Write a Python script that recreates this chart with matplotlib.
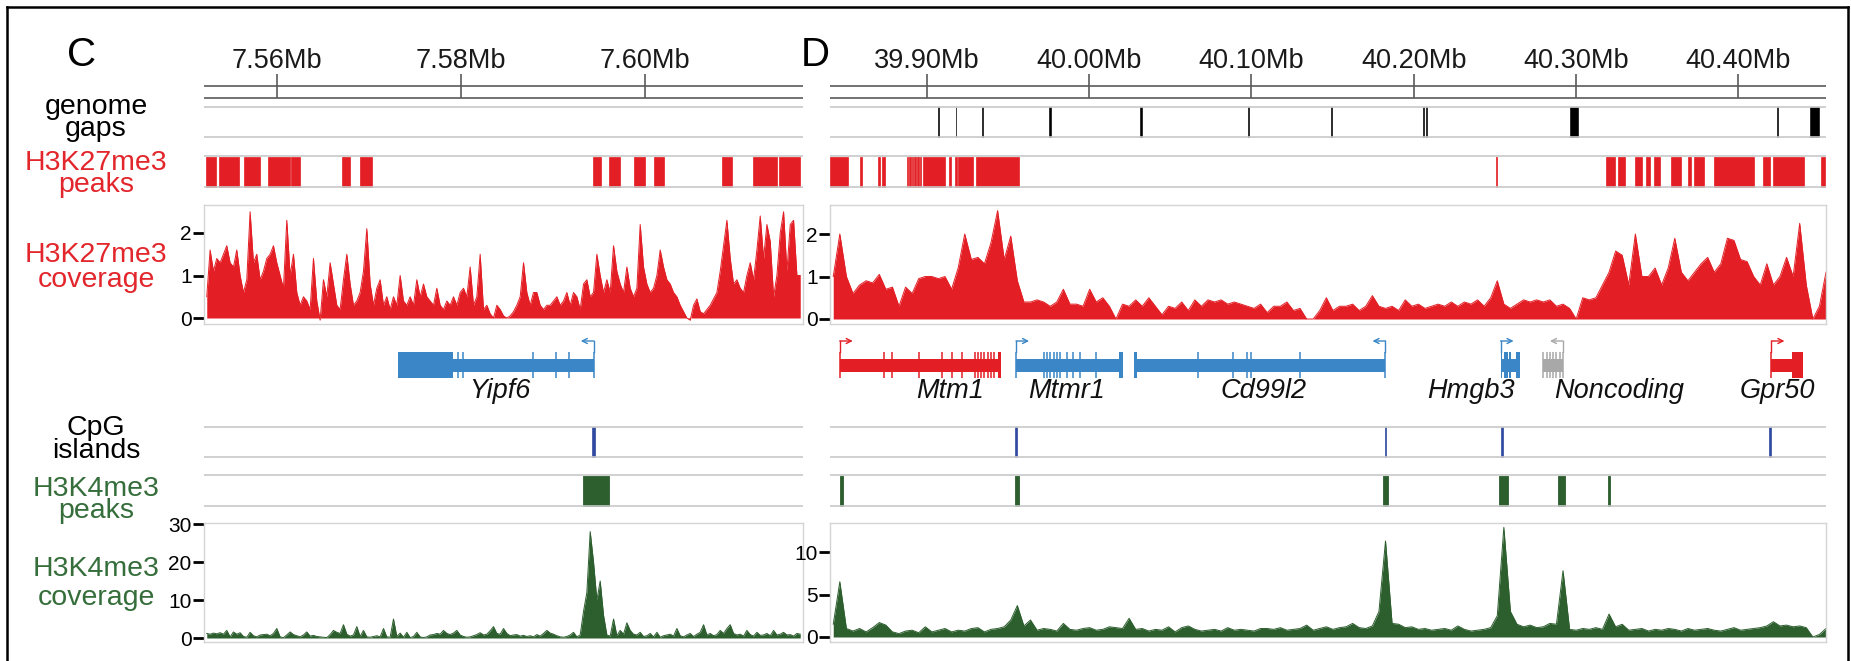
import numpy as np
import matplotlib
matplotlib.use("Agg")
import matplotlib.pyplot as plt
from matplotlib.lines import Line2D
from matplotlib.patches import Rectangle

plt.rcParams['font.family'] = ['Liberation Sans', 'DejaVu Sans']

W, H = 1851, 661

RED = '#e31e24'
BLUE = '#3a86c6'
GREEN = '#2c5e2e'
CPG_BLUE = '#2f4aa0'
GRAY_GENE = '#a8a8a8'
LABEL_RED = '#e2262b'
LABEL_GREEN = '#356e3b'
TRACK_LINE = '#c8c8c8'

# ---------------- region C (chrX) ----------------
C_RANGE = (7.5521, 7.6172)
C_TICKS = [7.56, 7.58, 7.60]
C_TICK_LABELS = ['7.56Mb', '7.58Mb', '7.60Mb']

C_GAP_START = []
C_GAP_END = []

C_K27_PEAK_START = [7.55236, 7.55373, 7.55645, 7.55910, 7.56160, 7.56714, 7.56910,
                    7.59438, 7.59612, 7.59885, 7.60096, 7.60835, 7.61175, 7.61460]
C_K27_PEAK_END = [7.55337, 7.55590, 7.55815, 7.56141, 7.56250, 7.56801, 7.57036,
                  7.59529, 7.59728, 7.59999, 7.60209, 7.60948, 7.61432, 7.61687]

C_K27_COV = [
    0.5, 1.6, 1.1, 1.4, 1.3, 1.5, 1.7, 1.3, 1.2, 1.6, 1.0, 0.6, 0.9, 2.5, 1.3, 1.5,
    0.9, 1.1, 1.4, 1.5, 1.7, 1.3, 1.0, 0.7, 2.3, 1.0, 1.5, 0.6, 0.3, 0.5, 0.4, 0.2,
    1.4, 0.4, -0.05, 0.9, 0.5, 1.3, 0.8, 0.3, 0.2, 0.9, 1.5, 0.8, 0.3, 0.4, 0.6, 1.1,
    2.1, 0.8, 0.3, 0.7, 0.9, 0.3, 0.5, 0.2, 0.5, 0.3, 1.0, 0.4, 0.3, 0.5, 0.3, 0.9,
    0.5, 0.8, 0.5, 0.4, 0.3, 0.7, 0.3, 0.2, 0.4, 0.3, 0.5, 0.3, 0.6, 0.7, 0.5, 1.2,
    0.3, 0.5, 1.5, 0.2, 0.3, 0.1, 0.0, 0.3, 0.2, 0.05, 0.0, 0.05, 0.15, 0.3, 0.5, 1.3,
    0.6, 0.3, 0.6, 0.6, 0.3, 0.2, 0.3, 0.3, 0.4, 0.5, 0.3, 0.4, 0.6, 0.3, 0.6, 0.5,
    0.2, 0.8, 0.9, 0.5, 0.6, 1.5, 1.0, 0.6, 0.9, 0.6, 1.7, 1.1, 0.8, 0.6, 1.2, 0.7,
    0.5, 0.7, 2.2, 1.2, 0.8, 0.6, 0.7, 1.0, 1.6, 1.2, 0.9, 0.8, 0.6, 0.5, 0.3, 0.15,
    0.0, -0.05, 0.3, 0.45, 0.15, 0.1, 0.2, 0.3, 0.45, 0.6, 1.1, 1.7, 2.3, 1.4, 0.8, 0.9,
    0.7, 0.6, 1.0, 1.3, 0.9, 1.6, 2.4, 1.4, 2.2, 1.8, 0.5, 1.0, 2.0, 2.5, 1.1, 2.2,
    2.3, 1.0, 1.0]

C_GENE_NAMES = ['Yipf6']
C_GENE_START = [7.57315]
C_GENE_END = [7.59446]
C_GENE_STRAND = ['-']
C_GENE_COLOR = [BLUE]
C_GENE_BLOCKS = [[(7.57315, 7.57913)]]
C_GENE_EXONS = [[7.57967, 7.58022, 7.58783, 7.59033, 7.59174, 7.59446]]
C_GENE_LABEL_POS = [7.58424]

C_CPG_START = [7.59430]
C_CPG_END = [7.59462]

C_K4_PEAK_START = [7.59330]
C_K4_PEAK_END = [7.59610]

C_K4_COV = [
    1.2, 1.0, 1.3, 1.1, 1.4, 1.0, 2.0, 0.3, 1.6, 1.0, 1.4, 0.4, 0.2, 1.5, 0.6, 0.3,
    0.8, 0.9, 1.0, 0.6, 1.2, 2.5, 0.3, 0.1, 0.8, 1.6, 0.9, 0.6, 0.3, 0.8, 1.6, 0.5,
    0.7, 0.4, 0.3, 0.2, 0.1, 0.9, 2.0, 1.5, 1.2, 3.5, 1.0, 0.5, 0.8, 3.0, 0.4, 2.0,
    0.3, 0.2, 0.4, 0.6, 0.3, 2.5, 0.3, 0.2, 5.0, 0.4, 1.3, 0.2, 1.5, 0.1, 0.4, 1.5,
    0.3, 0.1, 0.3, 0.8, 0.9, 1.2, 1.0, 2.0, 1.2, 0.9, 1.3, 2.0, 0.8, 0.4, 0.2, 0.3,
    0.6, 0.9, 1.4, 0.8, 1.0, 1.9, 3.0, 1.2, 1.0, 2.5, 1.2, 0.6, 0.8, 0.9, 0.5, 0.7,
    0.4, 0.6, 0.3, 0.9, 0.5, 1.2, 2.0, 1.3, 1.0, 0.6, 0.3, 0.2, 0.4, 0.8, 1.5, 0.3,
    0.8, 7.0, 12.0, 28.0, 20.0, 10.0, 15.0, 6.0, 0.8, 0.5, 5.0, 0.6, 2.0, 1.0, 4.0, 2.0,
    1.0, 0.8, 1.5, 0.4, 0.6, 1.2, 0.3, 1.5, 0.2, 0.6, 0.8, 1.0, 0.5, 2.5, 0.6, 0.3,
    0.8, 1.2, 0.4, 1.0, 1.5, 3.5, 0.8, 1.2, 0.6, 0.9, 2.0, 1.2, 2.5, 3.5, 1.2, 0.8,
    1.0, 0.5, 2.0, 0.9, 0.5, 1.5, 0.7, 0.8, 1.2, 0.6, 2.0, 0.8, 1.0, 1.5, 0.8, 0.9,
    0.5, 1.2, 1.0]

# ---------------- region D (chrX) ----------------
D_RANGE = (39.8405, 40.4539)
D_TICKS = [39.90, 40.00, 40.10, 40.20, 40.30, 40.40]
D_TICK_LABELS = ['39.90Mb', '40.00Mb', '40.10Mb', '40.20Mb', '40.30Mb', '40.40Mb']

D_GAP_START = [39.9073, 39.9178, 39.9344, 39.9755, 40.0314, 40.0981, 40.1491,
               40.2058, 40.2075, 40.2965, 40.4240, 40.4443]
D_GAP_END = [39.9079, 39.9184, 39.9350, 39.9767, 40.0326, 40.0987, 40.1497,
             40.2064, 40.2081, 40.3012, 40.4246, 40.4497]

D_K27_PEAK_START = [39.8405, 39.8587, 39.8701, 39.8725, 39.8882, 39.8891, 39.8900, 39.8910,
                    39.8920, 39.8930, 39.8940, 39.8950, 39.8960, 39.8975, 39.9140, 39.9174,
                    39.9194, 39.9304, 40.2506, 40.3182, 40.3203, 40.3255, 40.3364, 40.3433,
                    40.3478, 40.3587, 40.3688, 40.3728, 40.3850, 40.4154, 40.4214,
                    40.4510]
D_K27_PEAK_END = [39.8514, 39.8599, 39.8711, 39.8741, 39.8888, 39.8897, 39.8906, 39.8916,
                  39.8926, 39.8936, 39.8946, 39.8956, 39.8968, 39.9113, 39.9152, 39.9186,
                  39.9283, 39.9571, 40.2513, 40.3200, 40.3242, 40.3303, 40.3404, 40.3453,
                  40.3518, 40.3648, 40.3708, 40.3789, 40.4093, 40.4194, 40.4405,
                  40.4531]

D_K27_COV = [
    1.0, 2.0, 1.0, 0.6, 0.8, 0.9, 0.85, 1.05, 0.7, 0.75, 0.3, 0.75, 0.6, 0.95, 1.0, 1.0,
    0.95, 1.0, 0.7, 1.2, 2.0, 1.4, 1.45, 1.3, 1.8, 2.55, 1.4, 1.95, 0.9, 0.4, 0.4, 0.45,
    0.4, 0.3, 0.4, 0.7, 0.35, 0.35, 0.3, 0.7, 0.4, 0.5, 0.3, 0.0, 0.35, 0.3, 0.45, 0.3,
    0.5, 0.3, 0.1, 0.3, 0.25, 0.4, 0.2, 0.45, 0.3, 0.45, 0.4, 0.45, 0.35, 0.4, 0.35, 0.3,
    0.25, 0.35, 0.15, 0.3, 0.3, 0.4, 0.2, 0.25, 0.0, 0.0, 0.2, 0.5, 0.2, 0.3, 0.3, 0.35,
    0.2, 0.3, 0.55, 0.3, 0.25, 0.3, 0.2, 0.45, 0.3, 0.35, 0.25, 0.3, 0.35, 0.3, 0.4, 0.3,
    0.4, 0.35, 0.45, 0.3, 0.5, 0.9, 0.35, 0.25, 0.35, 0.45, 0.4, 0.45, 0.4, 0.45, 0.3, 0.35,
    0.25, 0.0, 0.5, 0.45, 0.5, 0.8, 1.1, 1.6, 1.5, 0.8, 2.0, 1.0, 1.0, 1.2, 0.8, 1.2,
    1.9, 1.1, 0.9, 1.1, 1.3, 1.45, 1.1, 1.3, 1.9, 1.85, 1.4, 1.35, 1.0, 0.8, 1.3, 0.8,
    1.0, 1.45, 1.0, 2.25, 0.8, 0.0, 0.3, 1.1]

D_GENE_NAMES = ['Mtm1', 'Mtmr1', 'Cd99l2', 'Hmgb3', 'Noncoding', 'Gpr50']
D_GENE_START = [39.8465, 39.9551, 40.0279, 40.2535, 40.2798, 40.4203]
D_GENE_END = [39.9457, 40.0207, 40.1826, 40.2656, 40.2919, 40.4397]
D_GENE_STRAND = ['+', '+', '-', '+', '-', '+']
D_GENE_COLOR = [RED, BLUE, BLUE, BLUE, GRAY_GENE, RED]
D_GENE_BLOCKS = [
    [(39.9437, 39.9457)],
    [(40.0186, 40.0207)],
    [(40.0279, 40.0296)],
    [(40.2535, 40.2543), (40.2553, 40.2578), (40.2588, 40.2602), (40.2630, 40.2656)],
    [],
    [(40.4328, 40.4397)],
]
D_GENE_EXONS = [
    [39.8465, 39.8737, 39.8789, 39.8951, 39.9093, 39.9154, 39.9215, 39.9295, 39.9316,
     39.9336, 39.9356, 39.9376, 39.9397, 39.9417],
    [39.9551, 39.9721, 39.9741, 39.9761, 39.9782, 39.9802, 39.9822, 39.9862, 39.9903,
     39.9943, 40.0045],
    [40.0672, 40.0887, 40.0976, 40.0996, 40.1300, 40.1826],
    [],
    [40.2798, 40.2818, 40.2838, 40.2858, 40.2878, 40.2899, 40.2919],
    [40.4203],
]
D_GENE_LABEL_POS = [39.9145, 39.9862, 40.1078, 40.2353, 40.3264, 40.4237]

D_CPG_START = [39.9546, 40.1821, 40.2536, 40.4189]
D_CPG_END = [39.9556, 40.1831, 40.2550, 40.4199]

D_K4_PEAK_START = [39.8465, 39.9547, 40.1810, 40.2526, 40.2887, 40.3196]
D_K4_PEAK_END = [39.8487, 39.9571, 40.1842, 40.2581, 40.2932, 40.3211]

D_K4_COV = [
    1.5, 6.5, 1.0, 0.7, 1.0, 0.6, 1.1, 1.7, 1.4, 0.6, 0.4, 0.7, 0.8, 0.5, 1.2, 0.6,
    0.8, 1.0, 0.6, 0.8, 0.7, 1.0, 1.1, 0.6, 0.9, 1.0, 1.2, 2.0, 3.7, 1.3, 2.0, 0.8,
    1.0, 0.9, 0.7, 1.6, 0.9, 0.8, 1.0, 1.1, 0.8, 0.9, 1.2, 1.1, 1.0, 2.2, 0.9, 1.0,
    0.7, 0.9, 0.8, 1.2, 0.6, 1.1, 1.3, 0.9, 0.7, 0.8, 0.9, 0.7, 1.1, 0.8, 0.9, 0.8,
    0.7, 1.0, 1.0, 0.9, 1.1, 0.8, 0.9, 1.0, 1.4, 0.8, 1.0, 1.2, 0.9, 1.1, 1.2, 1.6,
    1.1, 1.0, 1.3, 3.0, 11.3, 1.6, 1.5, 1.1, 1.2, 0.9, 1.0, 0.8, 0.9, 1.0, 0.8, 1.3,
    0.9, 0.7, 0.8, 0.9, 1.1, 2.5, 12.9, 3.0, 1.5, 1.2, 1.4, 1.1, 1.2, 1.6, 1.5, 7.8,
    0.9, 0.8, 1.0, 0.9, 1.1, 0.9, 2.7, 1.2, 1.5, 0.8, 0.9, 1.0, 0.7, 0.9, 0.8, 1.0,
    0.9, 0.7, 1.0, 0.8, 0.9, 1.0, 0.8, 0.7, 0.9, 1.1, 0.8, 0.9, 1.0, 1.1, 1.3, 1.8,
    1.3, 1.4, 1.2, 1.3, 1.1, 0.0, 0.3, 1.0]

C_COV_SPAN = (7.5524, 7.6169)
D_COV_SPAN = (39.8425, 40.4539)

# track titles: text, colour
TITLE_TEXT = ['genome\ngaps', 'H3K27me3\npeaks', 'H3K27me3\ncoverage',
              'CpG\nislands', 'H3K4me3\npeaks', 'H3K4me3\ncoverage']
TITLE_COLOR = ['black', LABEL_RED, LABEL_RED, 'black', LABEL_GREEN, LABEL_GREEN]

# ---------------- layout (pixels) ----------------
C_X = (204, 803)
D_X = (830, 1826)
Y_RULER = (74, 86, 98)
Y_GAPS = (107, 137)
Y_K27P = (156, 187)
Y_K27C = (205, 324)
Y_GENE_MID = 365
Y_ARROW = 341
Y_GENE_LABEL = 398
Y_CPG = (427, 457)
Y_K4P = (475, 506)
Y_K4C = (523, 642)
TITLE_X = 96
TITLE_FS = 20.5
TITLE_BASE = [116, 171, 263, 436, 497, 576]   # first-line baselines
TITLE_GAP = [20, 21, 24, 22, 21, 29]          # baseline-to-baseline distance

fig = plt.figure(figsize=(W / 100, H / 100), dpi=100)


def px_axes(x0, y0, x1, y1):
    return fig.add_axes([x0 / W, 1 - y1 / H, (x1 - x0) / W, (y1 - y0) / H])


def intervals(starts, ends):
    return [(s, e - s) for s, e in zip(starts, ends)]


def draw_panel(xpx, xr, ticks, tick_labels, gap_s, gap_e, k27p_s, k27p_e,
               gnames, gstart, gend, gstrand, gcolor, gblocks, gexons, glabel,
               cpg_s, cpg_e, k4p_s, k4p_e):
    ax = px_axes(xpx[0], 0, xpx[1], H)
    ax.set_xlim(*xr)
    ax.set_ylim(H, 0)
    ax.axis('off')
    ppm = (xpx[1] - xpx[0]) / (xr[1] - xr[0])  # pixels per Mb

    # genome axis
    ax.hlines([Y_RULER[1], Y_RULER[2]], xr[0], xr[1], color='#5a5a5a', lw=1.2)
    ax.vlines(ticks, Y_RULER[0], Y_RULER[2], color='#5a5a5a', lw=1.2)
    for t, lab in zip(ticks, tick_labels):
        ax.text(t, 68, lab, ha='center', va='baseline', fontsize=19.5, color='#1a1a1a')

    # plain track borders
    for y0, y1 in (Y_GAPS, Y_K27P, Y_CPG, Y_K4P):
        ax.hlines([y0, y1], xr[0], xr[1], color=TRACK_LINE, lw=1.2)

    # genome gaps
    if gap_s:
        ax.broken_barh(intervals(gap_s, gap_e), (Y_GAPS[0], Y_GAPS[1] - Y_GAPS[0]),
                       facecolor='black', edgecolor='#222222', lw=0.6)
    # H3K27me3 peaks
    ax.broken_barh(intervals(k27p_s, k27p_e), (Y_K27P[0] + 1, Y_K27P[1] - Y_K27P[0] - 1),
                   facecolor=RED, edgecolor=RED, lw=0.5)

    # gene models
    for name, s, e, strand, col, blocks, exons, lpos in zip(
            gnames, gstart, gend, gstrand, gcolor, gblocks, gexons, glabel):
        ax.add_patch(Rectangle((s, Y_GENE_MID - 6.5), e - s, 13, facecolor=col,
                               edgecolor='none'))
        for bs, be in blocks:
            ax.add_patch(Rectangle((bs, Y_GENE_MID - 13), be - bs, 26, facecolor=col,
                                   edgecolor='none'))
        if exons:
            ax.vlines(exons, Y_GENE_MID - 13, Y_GENE_MID + 13, color=col, lw=1.1)
        tss = s if strand == '+' else e
        direction = 1 if strand == '+' else -1
        ax.plot([tss, tss], [Y_GENE_MID - 13, Y_ARROW], color=col, lw=1.0)
        ax.annotate('', xy=(tss + direction * 13 / ppm, Y_ARROW), xytext=(tss, Y_ARROW),
                    arrowprops=dict(arrowstyle='->', color=col, lw=1.0,
                                    shrinkA=0, shrinkB=0, mutation_scale=9))
        ax.text(lpos, Y_GENE_LABEL, name, ha='center', va='baseline', fontsize=19.5,
                style='italic', color='#111111')

    # CpG islands
    ax.broken_barh(intervals(cpg_s, cpg_e), (Y_CPG[0], Y_CPG[1] - Y_CPG[0]),
                   facecolor=CPG_BLUE, edgecolor=CPG_BLUE, lw=0.5)
    # H3K4me3 peaks
    ax.broken_barh(intervals(k4p_s, k4p_e), (Y_K4P[0] + 1, Y_K4P[1] - Y_K4P[0] - 1),
                   facecolor=GREEN, edgecolor=GREEN, lw=0.6)
    return ax


def draw_coverage(xpx, ypx, xr, span, values, color, zero_px, px_per_unit, ticks):
    ax = px_axes(xpx[0], ypx[0], xpx[1], ypx[1])
    ax.set_xlim(*xr)
    lo = -(ypx[1] - zero_px) / px_per_unit
    hi = (zero_px - ypx[0]) / px_per_unit
    ax.set_ylim(lo, hi)
    pos = np.linspace(span[0], span[1], len(values))
    vals = np.asarray(values, dtype=float)
    ax.fill_between(pos, 0, vals, color=color, lw=0)
    ax.plot(pos, vals, color=color, lw=0.7)
    ax.set_xticks([])
    ax.set_yticks(ticks)
    ax.set_yticklabels([str(t) for t in ticks])
    ax.tick_params(axis='y', length=8, width=2, pad=1, labelsize=15, colors='black')
    for sp in ax.spines.values():
        sp.set_color('#d4d4d4')
        sp.set_linewidth(1.0)
    return ax


draw_panel(C_X, C_RANGE, C_TICKS, C_TICK_LABELS, C_GAP_START, C_GAP_END,
           C_K27_PEAK_START, C_K27_PEAK_END, C_GENE_NAMES, C_GENE_START, C_GENE_END,
           C_GENE_STRAND, C_GENE_COLOR, C_GENE_BLOCKS, C_GENE_EXONS, C_GENE_LABEL_POS,
           C_CPG_START, C_CPG_END, C_K4_PEAK_START, C_K4_PEAK_END)
draw_panel(D_X, D_RANGE, D_TICKS, D_TICK_LABELS, D_GAP_START, D_GAP_END,
           D_K27_PEAK_START, D_K27_PEAK_END, D_GENE_NAMES, D_GENE_START, D_GENE_END,
           D_GENE_STRAND, D_GENE_COLOR, D_GENE_BLOCKS, D_GENE_EXONS, D_GENE_LABEL_POS,
           D_CPG_START, D_CPG_END, D_K4_PEAK_START, D_K4_PEAK_END)

draw_coverage(C_X, Y_K27C, C_RANGE, C_COV_SPAN, C_K27_COV, RED, 318, 42.5, [0, 1, 2])
draw_coverage(D_X, Y_K27C, D_RANGE, D_COV_SPAN, D_K27_COV, RED, 319, 42.5, [0, 1, 2])
draw_coverage(C_X, Y_K4C, C_RANGE, C_COV_SPAN, C_K4_COV, GREEN, 638, 3.8, [0, 10, 20, 30])
draw_coverage(D_X, Y_K4C, D_RANGE, D_COV_SPAN, D_K4_COV, GREEN, 637, 8.5, [0, 5, 10])

# track titles, two lines each with tight leading; anchored on the baseline of the
# second line, line pitch set through the font ascent
line_unit_px = 0.905 * TITLE_FS * 100 / 72
for txt, col, yb, gap in zip(TITLE_TEXT, TITLE_COLOR, TITLE_BASE, TITLE_GAP):
    fig.text(TITLE_X / W, 1 - (yb + gap) / H, txt, ha='center', va='baseline',
             fontsize=TITLE_FS, color=col, linespacing=gap / line_unit_px)

# panel letters
fig.text(82 / W, 1 - 66 / H, 'C', ha='center', va='baseline', fontsize=29, color='black')
fig.text(815 / W, 1 - 66 / H, 'D', ha='center', va='baseline', fontsize=29, color='black')

# outer frame
frame_kw = dict(color='black', lw=1.8, transform=fig.transFigure)
fig.add_artist(Line2D([7 / W, 1848 / W], [1 - 7 / H, 1 - 7 / H], **frame_kw))
fig.add_artist(Line2D([7 / W, 7 / W], [1 - 7 / H, 0], **frame_kw))
fig.add_artist(Line2D([1848 / W, 1848 / W], [1 - 7 / H, 0], **frame_kw))

fig.savefig('out.png', dpi=100, facecolor='white')
